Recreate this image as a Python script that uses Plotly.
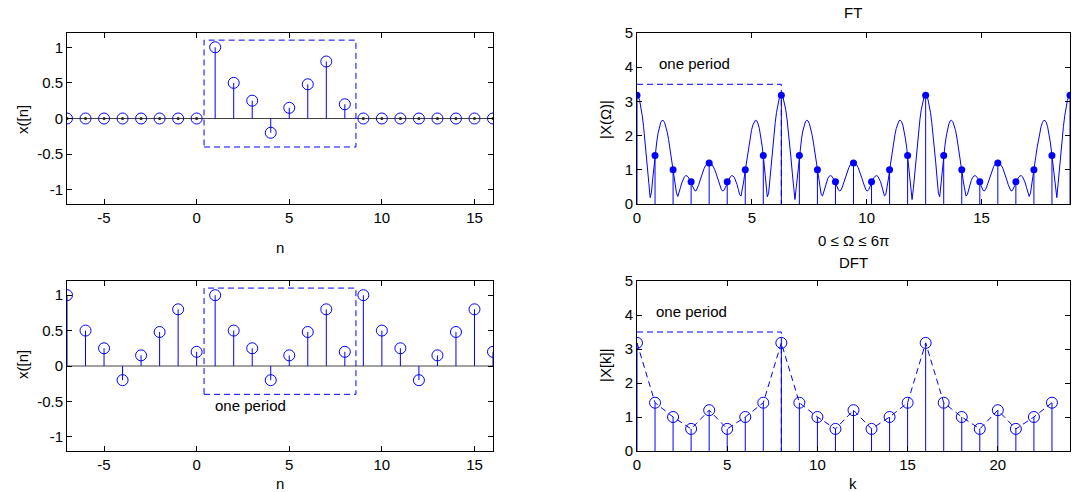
import numpy as np
import plotly.graph_objects as go
from plotly.subplots import make_subplots

# one period of x[n], n = 1..8
n_period = [1, 2, 3, 4, 5, 6, 7, 8]
x_period = [1.0, 0.5, 0.25, -0.2, 0.15, 0.48, 0.8, 0.2]
# time axis shown
n_vals = list(range(-7, 17))
# |X[k]| for one period k = 0..7
dft_mag = [3.18, 1.42, 1.0, 0.65, 1.2, 0.65, 1.0, 1.42]
k_vals = list(range(0, 24))
k_ft = list(range(0, 25))  # DFT points shown on the FT plot (0..6pi)

# tick labels (MATLAB style hyphen minus)
n_ticks = [-5, 0, 5, 10, 15]
n_ticktext = ["-5", "0", "5", "10", "15"]
xamp_ticks = [-1, -0.5, 0, 0.5, 1]
xamp_ticktext = ["-1", "-0.5", "0", "0.5", "1"]

# labels / texts
ylab_x = "x([n]"
ylab_ft = "|X(Ω)|"
ylab_dft = "|X[k]|"
xlab_ft = "0 ≤ Ω ≤ 6π"

BLUE = "rgb(0,0,255)"
FONT = "Liberation Sans, Arial, sans-serif"

# signals
x_single = [x_period[n - 1] if 1 <= n <= 8 else 0.0 for n in n_vals]
x_periodic = [x_period[(n - 1) % 8] for n in n_vals]
omega_k = [k * 2 * np.pi / 8 for k in k_ft]
ft_pts = [dft_mag[k % 8] for k in k_ft]
dft_pts = [dft_mag[k % 8] for k in k_vals]

# DTFT of the period read above
omega = np.linspace(0, 6 * np.pi, 330)
X = np.zeros_like(omega, dtype=complex)
for n, v in zip(n_period, x_period):
    X += v * np.exp(-1j * omega * n)
ft_curve = np.abs(X)


def stems(xs, ys):
    sx, sy = [], []
    for a, b in zip(xs, ys):
        sx += [a, a, None]
        sy += [0, b, None]
    return sx, sy


fig = make_subplots(rows=2, cols=2)

stem_line = dict(color=BLUE, width=1)

# --- top left: x[n]
sx, sy = stems(n_vals, x_single)
fig.add_trace(go.Scatter(x=[-7, 16], y=[0, 0], mode="lines",
                         line=dict(color="#444", width=1)), row=1, col=1)
fig.add_trace(go.Scatter(x=sx, y=sy, mode="lines", line=stem_line), row=1, col=1)
fig.add_trace(go.Scatter(x=n_vals, y=x_single, mode="markers",
                         marker=dict(symbol="circle-open", size=11, color=BLUE,
                                     line=dict(width=1))), row=1, col=1)
zero_n = [n for n, v in zip(n_vals, x_single) if v == 0]
fig.add_trace(go.Scatter(x=zero_n, y=[0] * len(zero_n), mode="markers",
                         marker=dict(symbol="circle", size=3, color="#222")),
              row=1, col=1)

# --- bottom left: periodic x[n]
sx, sy = stems(n_vals, x_periodic)
fig.add_trace(go.Scatter(x=[-7, 16], y=[0, 0], mode="lines",
                         line=dict(color="#444", width=1)), row=2, col=1)
fig.add_trace(go.Scatter(x=sx, y=sy, mode="lines", line=stem_line), row=2, col=1)
fig.add_trace(go.Scatter(x=n_vals, y=x_periodic, mode="markers",
                         marker=dict(symbol="circle-open", size=11, color=BLUE,
                                     line=dict(width=1))), row=2, col=1)

# --- top right: FT
sx, sy = stems(omega_k, ft_pts)
fig.add_trace(go.Scatter(x=sx, y=sy, mode="lines", line=stem_line), row=1, col=2)
fig.add_trace(go.Scatter(x=omega, y=ft_curve, mode="lines",
                         line=dict(color=BLUE, width=1)), row=1, col=2)
fig.add_trace(go.Scatter(x=omega_k, y=ft_pts, mode="markers",
                         marker=dict(symbol="circle", size=7, color=BLUE)),
              row=1, col=2)
fig.add_trace(go.Scatter(x=[0, 2 * np.pi, 2 * np.pi], y=[3.5, 3.5, 0], mode="lines",
                         line=dict(color=BLUE, width=1, dash="6px,4px")),
              row=1, col=2)

# --- bottom right: DFT
sx, sy = stems(k_vals, dft_pts)
fig.add_trace(go.Scatter(x=sx, y=sy, mode="lines", line=stem_line), row=2, col=2)
fig.add_trace(go.Scatter(x=k_vals, y=dft_pts, mode="lines",
                         line=dict(color=BLUE, width=1, dash="6px,4px")),
              row=2, col=2)
fig.add_trace(go.Scatter(x=k_vals, y=dft_pts, mode="markers",
                         marker=dict(symbol="circle-open", size=11, color=BLUE,
                                     line=dict(width=1))), row=2, col=2)
fig.add_trace(go.Scatter(x=[0, 8, 8], y=[3.5, 3.5, 0], mode="lines",
                         line=dict(color=BLUE, width=1, dash="6px,4px")),
              row=2, col=2)

# one-period boxes on the left plots
for xr, yr in (("x", "y"), ("x3", "y3")):
    fig.add_shape(type="rect", xref=xr, yref=yr, x0=0.4, x1=8.6, y0=-0.4, y1=1.1,
                  line=dict(color=BLUE, width=1, dash="6px,4px"))

W, H = 1072, 492


def px(x, y):
    return x / W, 1 - y / H


axis_style = dict(showline=True, linecolor="black", linewidth=1, mirror="ticks",
                  ticks="inside", ticklen=5, tickcolor="black", showgrid=False,
                  zeroline=False, automargin=False,
                  tickfont=dict(family=FONT, size=15, color="black"))

left = [67 / W, 493 / W]
right = [637 / W, 1070 / W]
top = [1 - 204 / H, 1 - 33 / H]
bottom = [1 - 451 / H, 1 - 281 / H]

fig.update_layout(
    xaxis=dict(domain=left, range=[-7, 16], tickvals=n_ticks, ticktext=n_ticktext, **axis_style),
    yaxis=dict(domain=top, range=[-1.2, 1.2], tickvals=xamp_ticks, ticktext=xamp_ticktext, **axis_style),
    xaxis2=dict(domain=right, range=[0, 6 * np.pi], tickvals=[0, 5, 10, 15], **axis_style),
    yaxis2=dict(domain=top, range=[0, 5], tickvals=[0, 1, 2, 3, 4, 5], **axis_style),
    xaxis3=dict(domain=left, range=[-7, 16], tickvals=n_ticks, ticktext=n_ticktext, **axis_style),
    yaxis3=dict(domain=bottom, range=[-1.2, 1.2], tickvals=xamp_ticks, ticktext=xamp_ticktext, **axis_style),
    xaxis4=dict(domain=right, range=[0, 24], tickvals=[0, 5, 10, 15, 20], **axis_style),
    yaxis4=dict(domain=bottom, range=[0, 5], tickvals=[0, 1, 2, 3, 4, 5], **axis_style),
    width=W, height=H, margin=dict(l=0, r=0, t=0, b=0),
    paper_bgcolor="white", plot_bgcolor="white", showlegend=False,
    font=dict(family=FONT, size=15, color="black"),
)

labels = [
    (ylab_x, 22, 120, -90), (ylab_x, 22, 365, -90),
    (ylab_ft, 605, 120, -90), (ylab_dft, 605, 365, -90),
    ("n", 280, 247, 0), ("n", 280, 483, 0),
    (xlab_ft, 853, 241, 0), ("k", 853, 483, 0),
    ("FT", 853, 12, 0), ("DFT", 853, 262, 0),
]
for text, x, y, ang in labels:
    ax, ay = px(x, y)
    fig.add_annotation(text=text, x=ax, y=ay, xref="paper", yref="paper",
                       showarrow=False, textangle=ang, xanchor="center", yanchor="middle",
                       font=dict(family=FONT, size=15, color="black"))

# "one period" labels
fig.add_annotation(text="one period", x=0.9, y=-0.56, xref="x3", yref="y3",
                   showarrow=False, xanchor="left", yanchor="middle",
                   font=dict(family=FONT, size=15, color="black"))
fig.add_annotation(text="one period", x=0.85, y=4.1, xref="x2", yref="y2",
                   showarrow=False, xanchor="left", yanchor="middle",
                   font=dict(family=FONT, size=15, color="black"))
fig.add_annotation(text="one period", x=0.95, y=4.1, xref="x4", yref="y4",
                   showarrow=False, xanchor="left", yanchor="middle",
                   font=dict(family=FONT, size=15, color="black"))

fig.write_html("out.html", config={"displayModeBar": False},
               post_script="document.body.style.margin='0px';")
